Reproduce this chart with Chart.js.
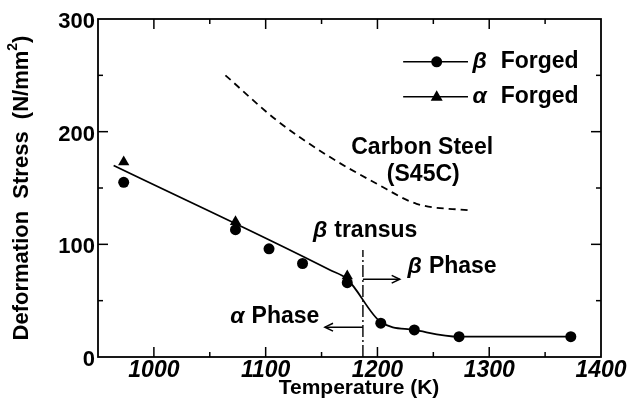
<!DOCTYPE html>
<html>
<head>
<meta charset="utf-8">
<script src="https://cdn.jsdelivr.net/npm/chart.js@4.4.1/dist/chart.umd.min.js"></script>
<style>
html, body { margin: 0; padding: 0; background: #fff; }
</style>
</head>
<body>
<canvas id="chart" width="629" height="412"></canvas>
<script>
// 温度 (K) と変形応力 (N/mm2) — 図から読み取った値
const betaTemp = [973, 1073, 1103, 1133, 1173, 1203, 1233, 1273, 1373];
const betaStress = [155, 113, 96, 83, 66, 30, 24, 18, 18];
const alphaTemp = [973, 1073, 1173];
const alphaStress = [173, 120, 72];
const fitTemp = [964, 1158, 1173, 1203, 1233, 1273, 1373];
const fitStress = [170, 77, 69, 31, 24, 18, 18];
const steelTemp = [1064, 1110, 1155, 1199, 1235, 1283];
const steelStress = [250, 210, 179, 154, 136, 130];
const transusTemp = [1187, 1187];
const transusStress = [0, 95];
const betaArrowTemp = [1187, 1220];
const betaArrowStress = [69, 69];
const alphaArrowTemp = [1187, 1153];
const alphaArrowStress = [26.5, 26.5];
const xTickLabels = [1000, 1100, 1200, 1300, 1400];
const yTickLabels = [0, 100, 200, 300];

const FONT = '"Liberation Sans", Arial, Helvetica, sans-serif';

const toPoints = (xs, ys) => xs.map((x, i) => ({ x: x, y: ys[i] }));

// 注記テキストの配置 (データ座標)
const notes = [
    { greek: '', text: 'Carbon Steel', x: 1240, y: 186, align: 'center' },
    { greek: '', text: '(S45C)', x: 1241, y: 162, align: 'center' },
    { greek: 'β', text: 'transus', x: 1189, y: 112, align: 'center' },
    { greek: 'β', text: 'Phase', x: 1227, y: 80, align: 'left' },
    { greek: 'α', text: 'Phase', x: 1148, y: 35.5, align: 'right' }
];

// ギリシャ文字(斜体)＋本文を描く
function drawLabel(ctx, greek, text, x, y, gap, align, size) {
    ctx.font = `italic bold ${size}px ${FONT}`;
    const gw = greek ? ctx.measureText(greek).width : 0;
    ctx.font = `bold ${size}px ${FONT}`;
    const tw = ctx.measureText(text).width;
    const total = (greek ? gw + gap : 0) + tw;
    let x0 = x;
    if (align === 'center') x0 = x - total / 2;
    if (align === 'right') x0 = x - total;
    ctx.textAlign = 'left';
    ctx.textBaseline = 'middle';
    ctx.fillStyle = '#000';
    if (greek) {
        ctx.font = `italic bold ${size}px ${FONT}`;
        ctx.fillText(greek, x0, y);
        x0 += gw + gap;
    }
    ctx.font = `bold ${size}px ${FONT}`;
    ctx.fillText(text, x0, y);
}

function seg(ctx, x1, y1, x2, y2) {
    ctx.beginPath();
    ctx.moveTo(x1, y1);
    ctx.lineTo(x2, y2);
    ctx.stroke();
}

const extras = {
    id: 'extras',
    afterDatasetsDraw(chart) {
        const { ctx, chartArea: a, scales: { x, y } } = chart;
        ctx.save();
        ctx.strokeStyle = '#000';
        ctx.setLineDash([]);

        // 枠線
        ctx.lineWidth = 1.8;
        ctx.strokeRect(a.left, a.top, a.right - a.left, a.bottom - a.top);

        // 内向きの目盛り (四辺)
        ctx.lineWidth = 1.5;
        x.ticks.forEach(t => {
            if (t.value <= x.min || t.value >= x.max) return;
            const px = x.getPixelForValue(t.value);
            const len = t.value % 100 === 0 ? 10 : 5;
            seg(ctx, px, a.bottom, px, a.bottom - len);
            seg(ctx, px, a.top, px, a.top + len);
        });
        y.ticks.forEach(t => {
            if (t.value <= y.min || t.value >= y.max) return;
            const py = y.getPixelForValue(t.value);
            const len = t.value % 100 === 0 ? 10 : 5;
            seg(ctx, a.left, py, a.left + len, py);
            seg(ctx, a.right, py, a.right - len, py);
        });

        // 矢印の先端
        chart.data.datasets.forEach((ds, i) => {
            if (!ds.arrow) return;
            const pts = chart.getDatasetMeta(i).data;
            const p0 = pts[0], p1 = pts[pts.length - 1];
            const ang = Math.atan2(p1.y - p0.y, p1.x - p0.x);
            const h = 9;
            ctx.lineWidth = 1.5;
            ctx.beginPath();
            ctx.moveTo(p1.x - h * Math.cos(ang - 0.45), p1.y - h * Math.sin(ang - 0.45));
            ctx.lineTo(p1.x, p1.y);
            ctx.lineTo(p1.x - h * Math.cos(ang + 0.45), p1.y - h * Math.sin(ang + 0.45));
            ctx.stroke();
        });

        // 注記
        notes.forEach(n => {
            drawLabel(ctx, n.greek, n.text, x.getPixelForValue(n.x), y.getPixelForValue(n.y), 7, n.align, 23);
        });

        // 凡例
        const legendRows = [
            { greek: 'β', style: 'circle', yv: 262 },
            { greek: 'α', style: 'triangle', yv: 231 }
        ];
        legendRows.forEach(r => {
            const py = y.getPixelForValue(r.yv);
            const lx1 = x.getPixelForValue(1223), lx2 = x.getPixelForValue(1281);
            const mx = x.getPixelForValue(1253);
            ctx.lineWidth = 1.6;
            seg(ctx, lx1, py, lx2, py);
            ctx.fillStyle = '#000';
            ctx.beginPath();
            if (r.style === 'circle') {
                ctx.arc(mx, py, 5.5, 0, Math.PI * 2);
            } else {
                ctx.moveTo(mx, py - 6.5);
                ctx.lineTo(mx + 6, py + 4);
                ctx.lineTo(mx - 6, py + 4);
                ctx.closePath();
            }
            ctx.fill();
            drawLabel(ctx, r.greek, 'Forged', x.getPixelForValue(1285), py, 14, 'left', 23);
        });

        // 軸タイトル
        ctx.fillStyle = '#000';
        ctx.textBaseline = 'middle';
        ctx.textAlign = 'center';
        ctx.font = `bold 21px ${FONT}`;
        ctx.fillText('Temperature (K)', 359, 388);

        ctx.save();
        ctx.translate(22, (a.top + a.bottom) / 2);
        ctx.rotate(-Math.PI / 2);
        const main = 'Deformation  Stress  (N/mm';
        ctx.font = `bold 22px ${FONT}`;
        const w1 = ctx.measureText(main).width;
        const w3 = ctx.measureText(')').width;
        ctx.font = `bold 14px ${FONT}`;
        const w2 = ctx.measureText('2').width;
        let sx = -(w1 + w2 + w3) / 2;
        ctx.textAlign = 'left';
        ctx.font = `bold 22px ${FONT}`;
        ctx.fillText(main, sx, 0);
        sx += w1;
        ctx.font = `bold 14px ${FONT}`;
        ctx.fillText('2', sx, -9);
        sx += w2;
        ctx.font = `bold 22px ${FONT}`;
        ctx.fillText(')', sx, 0);
        ctx.restore();

        ctx.restore();
    }
};

const ctx = document.getElementById('chart').getContext('2d');
new Chart(ctx, {
    type: 'scatter',
    data: {
        datasets: [
            {
                label: 'fit',
                data: toPoints(fitTemp, fitStress),
                showLine: true,
                borderColor: '#000',
                borderWidth: 1.8,
                pointRadius: 0,
                cubicInterpolationMode: 'monotone'
            },
            {
                label: 'Carbon Steel (S45C)',
                data: toPoints(steelTemp, steelStress),
                showLine: true,
                borderColor: '#000',
                borderWidth: 1.8,
                borderDash: [7, 5],
                pointRadius: 0,
                cubicInterpolationMode: 'monotone'
            },
            {
                label: 'beta transus',
                data: toPoints(transusTemp, transusStress),
                showLine: true,
                borderColor: '#000',
                borderWidth: 1.4,
                borderDash: [12, 3, 2, 3],
                pointRadius: 0
            },
            {
                label: 'beta phase',
                data: toPoints(betaArrowTemp, betaArrowStress),
                showLine: true,
                borderColor: '#000',
                borderWidth: 1.5,
                pointRadius: 0,
                arrow: true
            },
            {
                label: 'alpha phase',
                data: toPoints(alphaArrowTemp, alphaArrowStress),
                showLine: true,
                borderColor: '#000',
                borderWidth: 1.5,
                pointRadius: 0,
                arrow: true
            },
            {
                label: 'β Forged',
                data: toPoints(betaTemp, betaStress),
                pointStyle: 'circle',
                pointRadius: 5.5,
                backgroundColor: '#000',
                borderColor: '#000',
                borderWidth: 0
            },
            {
                label: 'α Forged',
                data: toPoints(alphaTemp, alphaStress),
                pointStyle: 'triangle',
                pointRadius: 6.5,
                backgroundColor: '#000',
                borderColor: '#000',
                borderWidth: 0
            }
        ]
    },
    options: {
        responsive: false,
        animation: false,
        devicePixelRatio: 1,
        layout: { padding: { left: 0, right: 28, top: 19, bottom: 0 } },
        plugins: {
            legend: { display: false },
            tooltip: { enabled: false }
        },
        scales: {
            x: {
                type: 'linear',
                position: 'bottom',
                min: 950,
                max: 1400,
                grid: { display: false, drawTicks: false },
                border: { display: false },
                ticks: {
                    stepSize: 50,
                    autoSkip: false,
                    maxRotation: 0,
                    padding: 0,
                    color: '#000',
                    font: { family: FONT, size: 23, weight: 'bold', style: 'italic' },
                    callback: v => xTickLabels.includes(v) ? String(v) : ''
                },
                afterFit: s => { s.height = 55; }
            },
            y: {
                type: 'linear',
                min: 0,
                max: 300,
                grid: { display: false, drawTicks: false },
                border: { display: false },
                ticks: {
                    stepSize: 50,
                    autoSkip: false,
                    padding: 3,
                    labelOffset: 3,
                    color: '#000',
                    font: { family: FONT, size: 22, weight: 'bold' },
                    callback: v => yTickLabels.includes(v) ? String(v) : ''
                },
                afterFit: s => { s.width = 98; }
            }
        }
    },
    plugins: [extras]
});
</script>
</body>
</html>
